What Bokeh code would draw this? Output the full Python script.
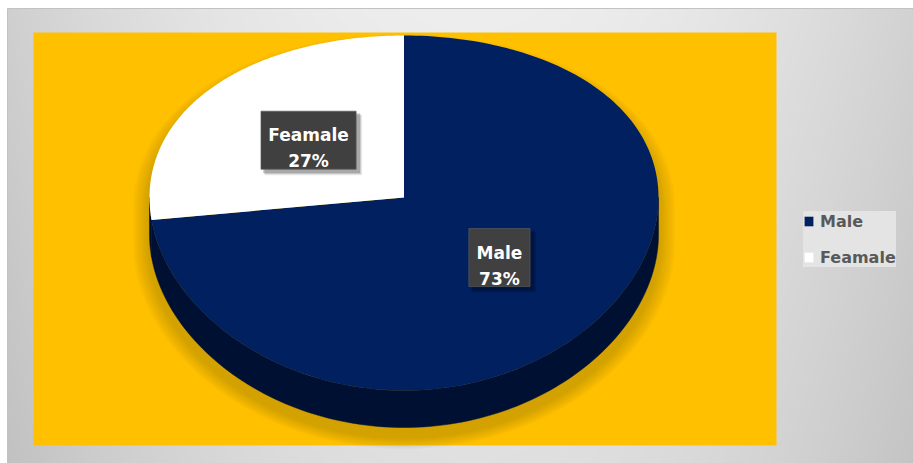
import numpy as np
from bokeh.plotting import figure
from bokeh.models import Range1d, ColumnDataSource
from bokeh.core.properties import value
from bokeh.embed import file_html
from bokeh.resources import INLINE

# ---- data ----
categories = ["Male", "Feamale"]
values = [73, 27]
colors = ["#002060", "#FFFFFF"]
wall_colors = ["#001033", "#001033"]

W, H = 913, 463
p = figure(width=W, height=H, x_range=Range1d(0, W), y_range=Range1d(0, H),
           output_backend="svg", toolbar_location=None, min_border=0)
p.axis.visible = False
p.grid.visible = False
p.outline_line_color = None
p.background_fill_color = "white"
p.border_fill_color = "white"

def Y(ys):
    return H - np.asarray(ys, dtype=float)

# ---- gray gradient chart background ----
x0, y0s = 7, 8
nx, ny = 453, 228
dw, dh = W - x0, H - y0s
xs_c = x0 + (np.arange(nx) + 0.5) * dw / nx
yd_c = (np.arange(ny) + 0.5) * dh / ny
ys_c = H - yd_c
XX, YY = np.meshgrid(xs_c, ys_c)
L = 238 - 30 * ((XX - 470) / 460) ** 2 - 14 * (YY / H)
L = np.clip(L, 0, 255).astype(np.uint8)
img = np.zeros((ny, nx), dtype=np.uint32)
view = img.view(dtype=np.uint8).reshape((ny, nx, 4))
view[..., 0] = L
view[..., 1] = L
view[..., 2] = L
view[..., 3] = 255
p.image_rgba(image=[img], x=x0, y=0, dw=dw, dh=dh)
p.segment(x0=[x0, x0], y0=[Y(y0s), Y(y0s)], x1=[W, x0], y1=[Y(y0s), 0],
          line_color="#c2c2c2", line_width=1)

# ---- yellow plot area ----
p.quad(left=33, right=776, top=Y(32), bottom=Y(445), fill_color="#FFC000", line_color=None)

# ---- pie geometry ----
cx, cys = 403.5, 197.0
rx = 254.5
depth = 37.0

def ry(t):
    return 177.5 - 15.5 * np.sin(t)

def ell(tdeg, dy=0.0, ex=0.0, ey=0.0):
    t = np.radians(tdeg)
    x = cx + (rx + ex) * np.cos(t)
    ys = cys - (ry(t) + ey) * np.sin(t) + dy
    return x, Y(ys)

# shadow
for k in range(9):
    e = 2 + 1.8 * k
    tu = np.linspace(0, 180, 90)
    tl = np.linspace(180, 360, 90)
    xu, yu = ell(tu, dy=10, ex=e, ey=e * 0.7)
    xl, yl = ell(tl, dy=10 + depth, ex=e, ey=e * 0.7)
    p.patch(np.concatenate([xu, xl]), np.concatenate([yu, yl]),
            fill_color="#5a3a00", fill_alpha=0.028, line_color=None)

total = float(sum(values))
cum = np.cumsum([0] + values)
starts = [90 - 360 * cum[i] / total for i in range(len(values))]
ends = [90 - 360 * cum[i + 1] / total for i in range(len(values))]

# side walls (front half: angles between -180 and 0)
for a0, a1, wc in zip(starts, ends, wall_colors):
    hi = min(a0, 0.0)
    lo = max(a1, -180.0)
    if hi > lo:
        t = np.linspace(hi, lo, 120)
        xt, yt = ell(t)
        xb, yb = ell(t[::-1], dy=depth)
        p.patch(np.concatenate([xt, xb]), np.concatenate([yt, yb]),
                fill_color=wc, line_color=wc, line_width=0.5)

# top faces
xs_list, ys_list = [], []
for a0, a1 in zip(starts, ends):
    t = np.linspace(a0, a1, 200)
    xa, ya = ell(t)
    xs_list.append(np.concatenate([[cx], xa]))
    ys_list.append(np.concatenate([Y(cys).reshape(1), ya]))
src = ColumnDataSource(dict(xs=xs_list, ys=ys_list, color=colors, label=categories))
p.patches("xs", "ys", source=src, fill_color="color", line_color=None, legend_field="label")

# ---- data labels ----
pcts = [f"{round(100 * v / total)}%" for v in values]
for a0, a1, cat, pct in zip(starts, ends, categories, pcts):
    am = np.radians((a0 + a1) / 2)
    lx = cx + 0.5 * rx * np.cos(am)
    lys = cys - 0.5 * ry(am) * np.sin(am) - 2
    bw = 11.3 * max(len(cat), len(pct)) + 16
    bh = 58
    for k, (off, al) in enumerate([(5, 0.08), (4, 0.12), (3, 0.18)]):
        p.rect(x=lx + off, y=Y(lys + off), width=bw + 2, height=bh + 2,
               width_units="screen", height_units="screen",
               fill_color="black", fill_alpha=al, line_color=None)
    p.rect(x=lx, y=Y(lys), width=bw, height=bh, width_units="screen", height_units="screen",
           fill_color="#404040", line_color="#5a5a5a", line_width=0.7)
    p.text(x=[lx, lx], y=[Y(lys - 5), Y(lys + 21)], text=[cat, pct],
           text_align="center", text_baseline="alphabetic",
           text_font=value("DejaVu Sans"), text_font_style="bold",
           text_font_size="17px", text_color="white")

# ---- legend ----
lg = p.legend[0]
lg.location = (803, 196)
lg.background_fill_color = "#e4e4e4"
lg.background_fill_alpha = 1
lg.border_line_color = None
lg.padding = 8
lg.spacing = 16
lg.margin = 0
lg.label_height = 20
lg.glyph_height = 12
lg.glyph_width = 11
lg.label_standoff = 6
lg.label_text_font = "DejaVu Sans"
lg.label_text_font_style = "bold"
lg.label_text_font_size = "16px"
lg.label_text_color = "#595959"

open("out.html", "w").write(file_html(p, INLINE))
